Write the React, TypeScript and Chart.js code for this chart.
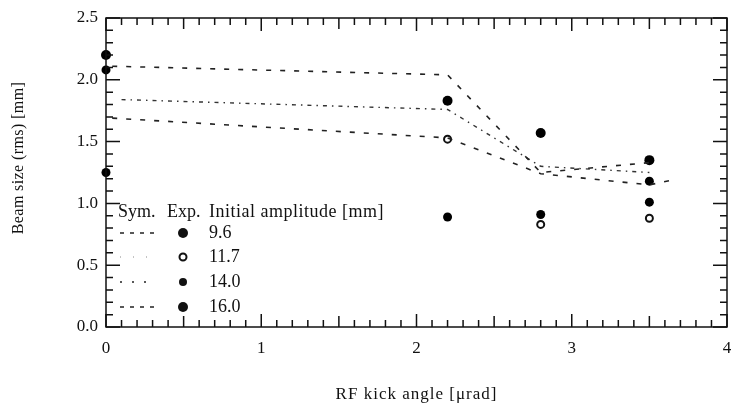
import React, { useEffect, useRef } from "react";
import { Chart, registerables } from "chart.js";
Chart.register(...registerables);

const FONT = "'Liberation Serif', 'Times New Roman', serif";

// simulation curves (dashed lines)
const simX16 = [0.04, 2.2, 2.8, 3.5];
const sim16 = [2.11, 2.04, 1.25, 1.33];
const simX14 = [0.1, 2.2, 2.8, 3.5];
const sim14 = [1.84, 1.76, 1.3, 1.25];
const simX96 = [0.04, 2.2, 2.8, 3.5, 3.65];
const sim96 = [1.69, 1.53, 1.24, 1.15, 1.19];

// experimental points
const expX16 = [0, 2.2, 2.8, 3.5];
const exp16 = [2.2, 1.83, 1.57, 1.35];
const expX14 = [0, 3.5];
const exp14 = [2.08, 1.18];
const expX117 = [2.2, 2.8, 3.5];
const exp117 = [1.52, 0.83, 0.88];
const expX96 = [0, 2.2, 2.8, 3.5];
const exp96 = [1.25, 0.89, 0.91, 1.01];

const amplitudes = ["9.6", "11.7", "14.0", "16.0"];
const xTicks = [0, 1, 2, 3, 4];
const yTicks = [0, 0.5, 1, 1.5, 2, 2.5];

const pts = (xs: number[], ys: number[]) => xs.map((x, i) => ({ x, y: ys[i] }));

const framePlugin = {
  id: "frame",
  afterDatasetsDraw(chart: any) {
    const { ctx, chartArea: a, scales } = chart;
    const xs = scales.x;
    const ys = scales.y;
    ctx.save();
    ctx.strokeStyle = "#111";
    ctx.lineWidth = 1.5;
    ctx.strokeRect(a.left, a.top, a.right - a.left, a.bottom - a.top);
    ctx.beginPath();
    for (let i = 0; i <= 40; i++) {
      const px = xs.getPixelForValue(i / 10);
      const len = i % 10 === 0 ? 13 : i % 5 === 0 ? 11 : 7;
      ctx.moveTo(px, a.bottom);
      ctx.lineTo(px, a.bottom - len);
      ctx.moveTo(px, a.top);
      ctx.lineTo(px, a.top + len);
    }
    for (let i = 0; i <= 25; i++) {
      const py = ys.getPixelForValue(i / 10);
      const len = i % 5 === 0 ? 14 : 7;
      ctx.moveTo(a.left, py);
      ctx.lineTo(a.left + len, py);
      ctx.moveTo(a.right, py);
      ctx.lineTo(a.right - len, py);
    }
    ctx.stroke();

    // axis titles
    ctx.fillStyle = "#111";
    ctx.textAlign = "center";
    ctx.textBaseline = "middle";
    ctx.font = `17px ${FONT}`;
    (ctx as any).letterSpacing = "1px";
    ctx.fillText("RF kick angle [\u03bcrad]", (a.left + a.right) / 2, 395);
    ctx.font = `16px ${FONT}`;
    (ctx as any).letterSpacing = "0.4px";
    ctx.save();
    ctx.translate(19, 158);
    ctx.rotate(-Math.PI / 2);
    ctx.fillText("Beam size (rms) [mm]", 0, 0);
    ctx.restore();
    (ctx as any).letterSpacing = "0px";

    // legend
    const lx = a.left + 12;
    ctx.textAlign = "left";
    ctx.font = `18px ${FONT}`;
    ctx.fillText("Sym.", lx, 212);
    ctx.fillText("Exp.", lx + 49, 212);
    (ctx as any).letterSpacing = "0.5px";
    ctx.fillText("Initial amplitude [mm]", lx + 91, 212);
    (ctx as any).letterSpacing = "0px";
    const rowY = [233, 257, 282, 307];
    const dashes = [[4, 6], [1, 12], [2, 10], [4, 6]];
    amplitudes.forEach((amp, i) => {
      const y = rowY[i];
      ctx.save();
      ctx.lineWidth = i === 1 ? 1 : 1.5;
      ctx.strokeStyle = i === 1 ? "#888" : "#222";
      ctx.setLineDash(dashes[i]);
      ctx.beginPath();
      ctx.moveTo(lx + 2, y);
      ctx.lineTo(lx + 38, y);
      ctx.stroke();
      ctx.restore();
      ctx.beginPath();
      if (i === 1) {
        ctx.lineWidth = 2;
        ctx.fillStyle = "#fff";
        ctx.arc(lx + 65, y, 3.5, 0, Math.PI * 2);
        ctx.fill();
        ctx.stroke();
        ctx.fillStyle = "#111";
      } else {
        ctx.arc(lx + 65, y, i === 2 ? 4 : 5, 0, Math.PI * 2);
        ctx.fill();
      }
      ctx.fillText(amp, lx + 91, y);
    });
    ctx.restore();
  },
};

export default function App() {
  const ref = useRef<HTMLCanvasElement | null>(null);
  useEffect(() => {
    if (!ref.current) return;
    const lineBase = { showLine: true, pointRadius: 0, fill: false, tension: 0, borderColor: "#222" };
    const chart = new Chart(ref.current, {
      type: "scatter",
      data: {
        datasets: [
          { ...lineBase, label: "sim 16.0", data: pts(simX16, sim16), borderWidth: 1.6, borderDash: [5, 9] },
          { ...lineBase, label: "sim 14.0", data: pts(simX14, sim14), borderWidth: 1.4, borderColor: "#333", borderDash: [4, 5, 1.5, 5] },
          { ...lineBase, label: "sim 9.6", data: pts(simX96, sim96), borderWidth: 1.6, borderDash: [5, 9] },
          { label: "exp 16.0", data: pts(expX16, exp16), pointRadius: 5, backgroundColor: "#000", borderColor: "#000", borderWidth: 0, clip: false },
          { label: "exp 14.0", data: pts(expX14, exp14), pointRadius: 4.5, backgroundColor: "#000", borderColor: "#000", borderWidth: 0, clip: false },
          { label: "exp 11.7", data: pts(expX117, exp117), pointRadius: 3.5, backgroundColor: "#fff", borderColor: "#111", borderWidth: 2, clip: false },
          { label: "exp 9.6", data: pts(expX96, exp96), pointRadius: 4.5, backgroundColor: "#000", borderColor: "#000", borderWidth: 0, clip: false },
        ] as any,
      },
      options: {
        animation: false,
        responsive: false,
        maintainAspectRatio: false,
        layout: { autoPadding: false, padding: { top: 18, right: 9, left: 0, bottom: 0 } },
        plugins: { legend: { display: false }, tooltip: { enabled: false } },
        scales: {
          x: {
            type: "linear",
            min: 0,
            max: 4,
            grid: { display: false, drawTicks: true, tickLength: 11 },
            border: { display: false },
            afterBuildTicks: (s: any) => { s.ticks = xTicks.map((v) => ({ value: v })); },
            ticks: { padding: 0, color: "#111", font: { family: FONT, size: 17 }, callback: (v: any) => String(v) },
            afterFit: (s: any) => { s.height = 82; s.paddingRight = 0; s.paddingLeft = 0; },
          },
          y: {
            type: "linear",
            min: 0,
            max: 2.5,
            grid: { display: false, drawTicks: false },
            border: { display: false },
            afterBuildTicks: (s: any) => { s.ticks = yTicks.map((v) => ({ value: v })); },
            ticks: { padding: 8, color: "#111", font: { family: FONT, size: 17 }, callback: (v: any) => Number(v).toFixed(1) },
            afterFit: (s: any) => { s.width = 106; s.paddingTop = 0; s.paddingBottom = 0; },
          },
        },
      } as any,
      plugins: [framePlugin],
    });
    return () => chart.destroy();
  }, []);
  return (
    <div style={{ position: "absolute", left: 0, top: 0, width: 736, height: 409, background: "#fff" }}>
      <canvas ref={ref} width={736} height={409} style={{ display: "block" }} />
    </div>
  );
}
